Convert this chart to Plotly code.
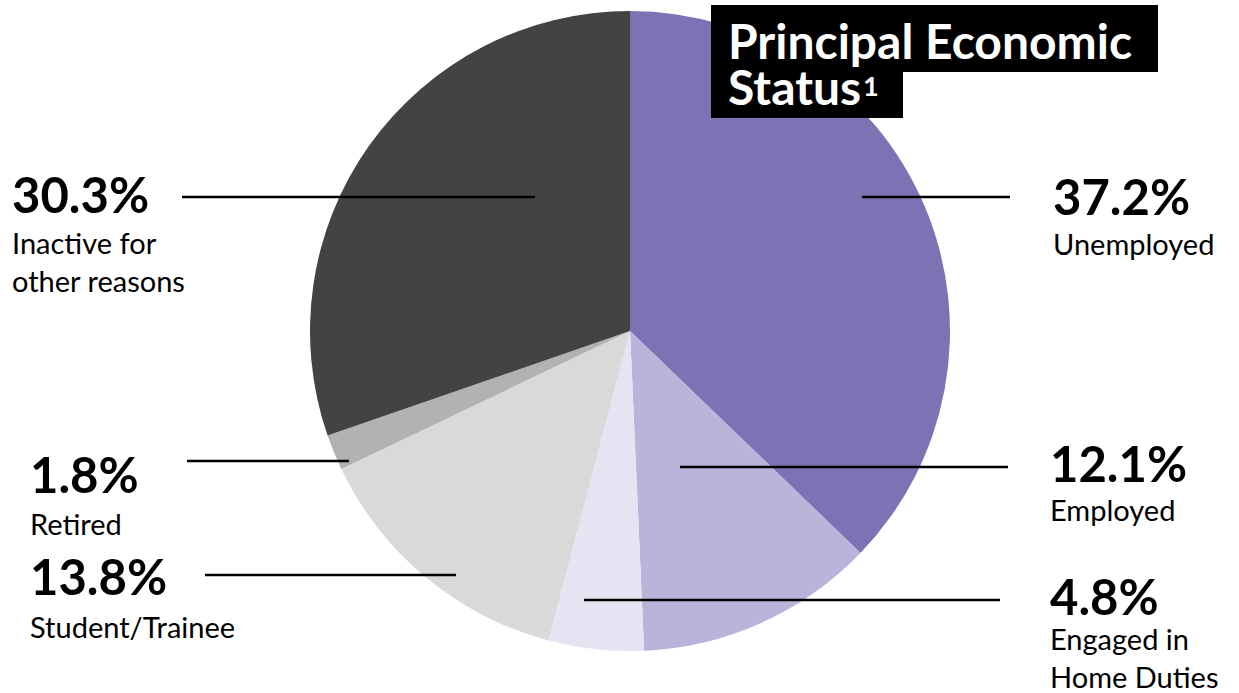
import plotly.graph_objects as go

W, H = 1239, 693

categories = ["Unemployed", "Employed", "Engaged in Home Duties", "Student/Trainee", "Retired", "Inactive for other reasons"]
values = [37.2, 12.1, 4.8, 13.8, 1.8, 30.3]
display_names = ["Unemployed", "Employed", "Engaged in<br>Home Duties", "Student/Trainee", "Retired", "Inactive for<br>other reasons"]
colors = ["#7F72B4", "#BAB4DB", "#E6E4F3", "#D9D9D9", "#B3B2B3", "#434342"]

# label layout (pixel positions): text x, pct y, name y, line x0, x1, line y
label_pos = {
    "Unemployed": (1051, 196, 243, 862, 1010, 197),
    "Employed": (1048, 463, 510, 680, 1008, 467),
    "Engaged in Home Duties": (1048, 596, 657, 584, 1000, 600),
    "Student/Trainee": (28, 576, 626, 205, 456, 575),
    "Retired": (28, 474, 523, 187, 349, 461),
    "Inactive for other reasons": (10, 194, 262, 182, 535, 197),
}

FONT = "Lato"

def px(x):
    return x / W

def py(y):
    return 1 - y / H

cx, cy, r = 630, 331, 320

fig = go.Figure(go.Pie(
    labels=categories,
    values=values,
    marker=dict(colors=colors, line=dict(width=0)),
    sort=False,
    direction="clockwise",
    rotation=0,
    textinfo="none",
    hoverinfo="label+percent",
    domain=dict(x=[px(cx - r), px(cx + r)], y=[py(cy + r), py(cy - r)]),
    showlegend=False,
))

annotations = []
shapes = []
for cat, val, name in zip(categories, values, display_names):
    tx, pyc, nyc, lx0, lx1, ly = label_pos[cat]
    annotations.append(dict(
        x=px(tx), y=py(pyc), xref="paper", yref="paper",
        text=f"<b>{val:.1f}%</b>", showarrow=False, align="left",
        xanchor="left", yanchor="middle",
        font=dict(family=FONT, size=49, color="#000000"),
    ))
    annotations.append(dict(
        x=px(tx), y=py(nyc), xref="paper", yref="paper",
        text=name, showarrow=False, align="left",
        xanchor="left", yanchor="middle",
        font=dict(family=FONT, size=29, color="#000000"),
    ))
    shapes.append(dict(
        type="line", xref="paper", yref="paper",
        x0=px(lx0), x1=px(lx1), y0=py(ly), y1=py(ly),
        line=dict(color="#000000", width=2.5),
    ))

# title boxes
shapes.append(dict(type="rect", xref="paper", yref="paper",
                   x0=px(711), x1=px(1158), y0=py(72), y1=py(5),
                   fillcolor="#000000", line=dict(width=0)))
shapes.append(dict(type="rect", xref="paper", yref="paper",
                   x0=px(711), x1=px(903), y0=py(118), y1=py(70),
                   fillcolor="#000000", line=dict(width=0)))
annotations.append(dict(
    x=px(727), y=py(40), xref="paper", yref="paper",
    text="<b>Principal Economic</b>", showarrow=False, align="left",
    xanchor="left", yanchor="middle", borderpad=0,
    font=dict(family=FONT, size=48, color="#FFFFFF"),
))
annotations.append(dict(
    x=px(727), y=py(87), xref="paper", yref="paper",
    text="<b>Status</b>", showarrow=False, align="left",
    xanchor="left", yanchor="middle", borderpad=0,
    font=dict(family=FONT, size=48, color="#FFFFFF"),
))
annotations.append(dict(
    x=px(862), y=py(85), xref="paper", yref="paper",
    text="<b>1</b>", showarrow=False, align="left",
    xanchor="left", yanchor="middle", borderpad=0,
    font=dict(family=FONT, size=27, color="#FFFFFF"),
))

fig.update_layout(
    width=W, height=H,
    margin=dict(l=0, r=0, t=0, b=0),
    paper_bgcolor="#FFFFFF",
    plot_bgcolor="#FFFFFF",
    annotations=annotations,
    shapes=shapes,
)

fig.write_html(
    "out.html",
    config={"displayModeBar": False},
    post_script="document.body.style.margin='0';document.body.style.overflow='hidden';",
)
